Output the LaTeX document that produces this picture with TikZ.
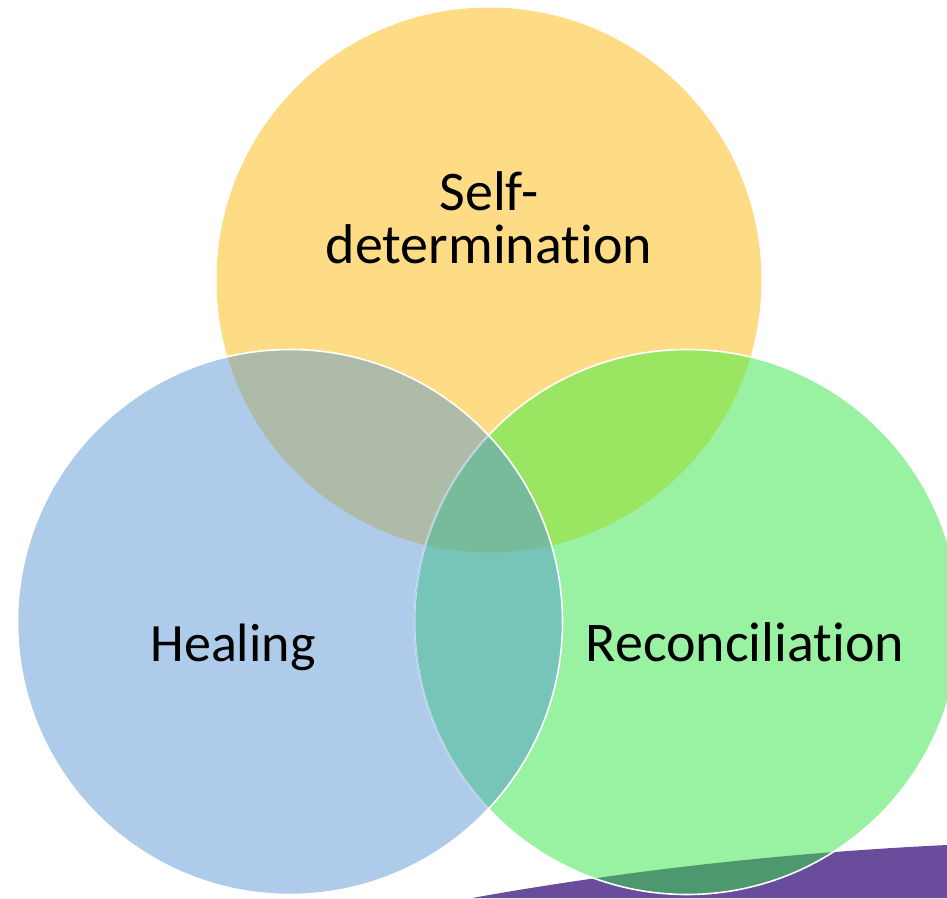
\documentclass[tikz,border=0pt]{standalone}
\usepackage{fontspec}
\setmainfont{Carlito}[RawFeature=-liga]
\definecolor{cyel}{RGB}{253,220,133}
\definecolor{cblu}{RGB}{174,203,234}
\definecolor{cgrn}{RGB}{152,242,162}
\definecolor{cyb}{RGB}{173,187,168}
\definecolor{cyg}{RGB}{154,229,98}
\definecolor{cbg}{RGB}{119,197,185}
\definecolor{call}{RGB}{120,187,154}
\definecolor{cpur}{RGB}{106,76,156}
\definecolor{cgp}{RGB}{78,152,112}
\tikzset{
  lbl/.style={text=black, align=center, inner sep=0pt, font=\fontsize{56}{53}\selectfont},
  rim/.style={draw=white, line width=1.6pt}
}
\begin{document}
\begin{tikzpicture}[x=1pt,y=-1pt]
\useasboundingbox (0,0) rectangle (947,898);
\clip (0,0) rectangle (947,898);
\coordinate (Y) at (489,280);
\coordinate (B) at (290,622);
\coordinate (G) at (687,622);
\def\R{272.5}
% purple swoosh
\fill[cpur] (472,898) .. controls (640,868) and (800,852) .. (947,845) -- (947,898) -- cycle;
% base fills
\fill[cyel] (Y) circle (\R);
\fill[cblu] (B) circle (\R);
\fill[cgrn] (G) circle (\R);
% pairwise overlaps
\begin{scope}\clip (Y) circle (\R); \fill[cyb] (B) circle (\R); \end{scope}
\begin{scope}\clip (Y) circle (\R); \fill[cyg] (G) circle (\R); \end{scope}
\begin{scope}\clip (B) circle (\R); \fill[cbg] (G) circle (\R); \end{scope}
\begin{scope}\clip (Y) circle (\R); \clip (B) circle (\R); \fill[call] (G) circle (\R); \end{scope}
\begin{scope}\clip (G) circle (\R);
  \fill[cgp] (472,898) .. controls (640,868) and (800,852) .. (947,845) -- (947,898) -- cycle;
\end{scope}
% rims
\draw[rim] (G) circle (\R);
\begin{scope}\clip (B) circle (\R); \draw[draw=cblu, line width=1.2pt] (G) circle (\R); \end{scope}
\draw[rim] (B) circle (\R);
% labels
\node[lbl] (ts) at (489,218) {Self-\\determination};
\node[lbl, font=\fontsize{54}{60}\selectfont, anchor=base] (th) at (233,661) {Healing};
\node[lbl, anchor=base] (tr) at (745,661) {Reconciliation};
\end{tikzpicture}
\end{document}
